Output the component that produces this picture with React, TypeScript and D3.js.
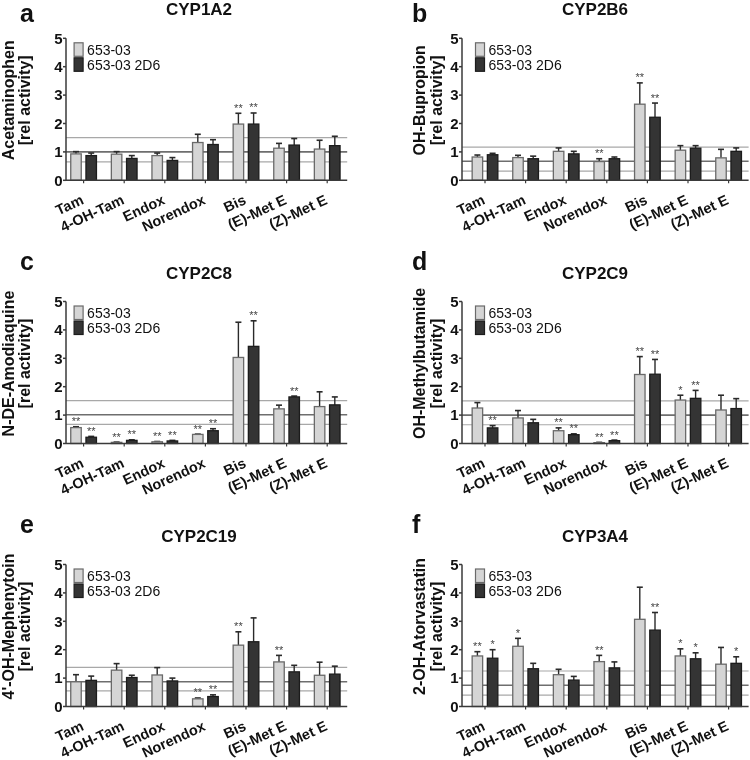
import React from "react";
import * as d3 from "d3";

// ---------- data ----------
const categories = ["Tam", "4-OH-Tam", "Endox", "Norendox", "Bis", "(E)-Met E", "(Z)-Met E"];
const seriesNames = ["653-03", "653-03 2D6"];
const yTicks = [0, 1, 2, 3, 4, 5];

const panelLetters = ["a", "b", "c", "d", "e", "f"];
const panelTitles = ["CYP1A2", "CYP2B6", "CYP2C8", "CYP2C9", "CYP2C19", "CYP3A4"];
const yLabels = ["Acetaminophen", "OH-Bupropion", "N-DE-Amodiaquine", "OH-Methylbutamide", "4'-OH-Mephenytoin", "2-OH-Atorvastatin"];
const yLabel2 = "[rel activity]";

// a: CYP1A2
const aLight = [0.93, 0.92, 0.87, 1.33, 1.98, 1.13, 1.10];
const aLightSd = [0.08, 0.09, 0.09, 0.29, 0.38, 0.17, 0.31];
const aDark = [0.87, 0.77, 0.70, 1.26, 1.98, 1.24, 1.22];
const aDarkSd = [0.09, 0.10, 0.10, 0.17, 0.39, 0.23, 0.33];
const aLightSig = ["", "", "", "", "**", "", ""];
const aDarkSig = ["", "", "", "", "**", "", ""];
const aRef = [1.5, 1.0, 0.65];

// b: CYP2B6
const bLight = [0.82, 0.80, 1.02, 0.66, 2.68, 1.06, 0.79];
const bLightSd = [0.07, 0.08, 0.12, 0.10, 0.75, 0.16, 0.30];
const bDark = [0.90, 0.76, 0.93, 0.76, 2.22, 1.13, 1.02];
const bDarkSd = [0.05, 0.09, 0.09, 0.06, 0.50, 0.09, 0.12];
const bLightSig = ["", "", "", "**", "**", "", ""];
const bDarkSig = ["", "", "", "", "**", "", ""];
const bRef = [1.17, 0.67, 0.32];

// c: CYP2C8
const cLight = [0.56, 0.04, 0.06, 0.32, 3.03, 1.22, 1.30];
const cLightSd = [0.03, 0.01, 0.01, 0.01, 1.24, 0.13, 0.52];
const cDark = [0.22, 0.11, 0.09, 0.45, 3.42, 1.64, 1.36];
const cDarkSd = [0.03, 0.02, 0.02, 0.07, 0.90, 0.03, 0.28];
const cLightSig = ["**", "**", "**", "**", "", "", ""];
const cDarkSig = ["**", "**", "**", "**", "**", "**", ""];
const cRef = [1.51, 1.01, 0.67];

// d: CYP2C9
const dLight = [1.25, 0.90, 0.45, 0.03, 2.43, 1.53, 1.18];
const dLightSd = [0.19, 0.26, 0.10, 0.01, 0.63, 0.17, 0.52];
const dDark = [0.55, 0.73, 0.31, 0.10, 2.44, 1.59, 1.23];
const dDarkSd = [0.08, 0.12, 0.03, 0.02, 0.52, 0.28, 0.35];
const dLightSig = ["", "", "**", "**", "**", "*", ""];
const dDarkSig = ["**", "", "**", "**", "**", "**", ""];
const dRef = [1.5, 1.0, 0.66];

// e: CYP2C19
const eLight = [0.87, 1.28, 1.11, 0.27, 2.16, 1.57, 1.10];
const eLightSd = [0.25, 0.23, 0.26, 0.03, 0.47, 0.23, 0.46];
const eDark = [0.92, 1.02, 0.90, 0.35, 2.28, 1.22, 1.14];
const eDarkSd = [0.15, 0.08, 0.10, 0.06, 0.84, 0.23, 0.28];
const eLightSig = ["", "", "", "**", "**", "**", ""];
const eDarkSig = ["", "", "", "**", "", "", ""];
const eRef = [1.38, 0.87, 0.55];

// f: CYP3A4
const fLight = [1.78, 2.12, 1.12, 1.58, 3.07, 1.78, 1.49];
const fLightSd = [0.15, 0.28, 0.19, 0.22, 1.13, 0.25, 0.59];
const fDark = [1.70, 1.33, 0.93, 1.36, 2.69, 1.68, 1.52];
const fDarkSd = [0.30, 0.19, 0.13, 0.21, 0.62, 0.21, 0.23];
const fLightSig = ["**", "*", "", "**", "", "*", ""];
const fDarkSig = ["*", "", "", "", "**", "*", "*"];
const fRef = [1.25, 0.75, 0.40];

const panels = [
  { light: aLight, lightSd: aLightSd, dark: aDark, darkSd: aDarkSd, lightSig: aLightSig, darkSig: aDarkSig, ref: aRef },
  { light: bLight, lightSd: bLightSd, dark: bDark, darkSd: bDarkSd, lightSig: bLightSig, darkSig: bDarkSig, ref: bRef },
  { light: cLight, lightSd: cLightSd, dark: cDark, darkSd: cDarkSd, lightSig: cLightSig, darkSig: cDarkSig, ref: cRef },
  { light: dLight, lightSd: dLightSd, dark: dDark, darkSd: dDarkSd, lightSig: dLightSig, darkSig: dDarkSig, ref: dRef },
  { light: eLight, lightSd: eLightSd, dark: eDark, darkSd: eDarkSd, lightSig: eLightSig, darkSig: eDarkSig, ref: eRef },
  { light: fLight, lightSd: fLightSd, dark: fDark, darkSd: fDarkSd, lightSig: fLightSig, darkSig: fDarkSig, ref: fRef },
];

// ---------- layout ----------
const W = 750;
const H = 760;
const colAxisX = [66, 462];
const colFirstOffset = [17.6, 23];
const rowZeroY = [180.3, 443.5, 706.5];
const plotH = 142;
const step = 40.6;
const FONT = "'Liberation Sans', Arial, Helvetica, sans-serif";

const LIGHT_FILL = "#d5d5d5";
const LIGHT_STROKE = "#6a6a6a";
const DARK_FILL = "#343434";
const DARK_STROKE = "#1c1c1c";
const AXIS = "#3a3a3a";

function Panel({ idx }: { idx: number }) {
  const p = panels[idx];
  const col = idx % 2;
  const row = Math.floor(idx / 2);
  const axisX = colAxisX[col];
  const off = colFirstOffset[col];
  const zeroY = rowZeroY[row];
  const y = d3.scaleLinear().domain([0, 5]).range([zeroY, zeroY - plotH]);
  const x = d3
    .scaleBand<string>()
    .domain(categories)
    .range([axisX + off - step / 2, axisX + off - step / 2 + categories.length * step])
    .paddingInner(0)
    .paddingOuter(0);
  const sub = d3.scaleBand<string>().domain(["light", "dark"]).range([-12.85, 12.85]).paddingInner(0.31);
  const bw = sub.bandwidth();
  const xEnd = axisX + off + (categories.length - 1) * step + 20;
  const center = (c: string) => (x(c) as number) + x.bandwidth() / 2;
  const y5 = y(5);
  const labelCY = (y(0) + y(5)) / 2 - 9;
  const yl1 = col === 0 ? 14 : 425;
  const yl2 = col === 0 ? 30 : 442;
  const letterX = col === 0 ? 20 : 412;
  const letterY = row === 0 ? 22 : y5 - 31.5;
  const legX = center(categories[0]) - 9.5;

  const series = [
    { key: "light", vals: p.light, sd: p.lightSd, sig: p.lightSig, fill: LIGHT_FILL, stroke: LIGHT_STROKE },
    { key: "dark", vals: p.dark, sd: p.darkSd, sig: p.darkSig, fill: DARK_FILL, stroke: DARK_STROKE },
  ];

  return (
    <g>
      {/* panel letter and title */}
      <text x={letterX} y={letterY} fontSize={25} fontWeight="bold" fontFamily={FONT} fill="#111">
        {panelLetters[idx]}
      </text>
      <text x={axisX + 133} y={y5 - 23} fontSize={17} fontWeight="bold" fontFamily={FONT} textAnchor="middle" fill="#111">
        {panelTitles[idx]}
      </text>

      {/* y label */}
      <text transform={`translate(${yl1},${labelCY}) rotate(-90)`} fontSize={16} fontWeight="bold" fontFamily={FONT} textAnchor="middle" fill="#111">
        {yLabels[idx]}
      </text>
      <text transform={`translate(${yl2},${labelCY}) rotate(-90)`} fontSize={16} fontWeight="bold" fontFamily={FONT} textAnchor="middle" fill="#111">
        {yLabel2}
      </text>

      {/* reference lines */}
      {p.ref.map((r, k) => (
        <line
          key={"ref" + k}
          x1={axisX}
          x2={xEnd}
          y1={y(r)}
          y2={y(r)}
          stroke={k === 1 ? "#6e6e6e" : "#a8a8a8"}
          strokeWidth={k === 1 ? 1.6 : 1.2}
        />
      ))}

      {/* bars */}
      {series.map((s) =>
        categories.map((c, i) => {
          const bx = center(c) + (sub(s.key) as number);
          const v = s.vals[i];
          const top = y(v);
          const et = y(v + s.sd[i]);
          const mx = bx + bw / 2;
          return (
            <g key={s.key + c}>
              <line x1={mx} x2={mx} y1={top} y2={et} stroke="#2a2a2a" strokeWidth={1.4} />
              <line x1={mx - 3} x2={mx + 3} y1={et} y2={et} stroke="#2a2a2a" strokeWidth={1.6} />
              <rect x={bx} y={top} width={bw} height={zeroY - top} fill={s.fill} stroke={s.stroke} strokeWidth={1.3} />
              {s.sig[i] ? (
                <text x={mx} y={et - 1.5} fontSize={11} fontFamily={FONT} textAnchor="middle" fill="#444">
                  {s.sig[i]}
                </text>
              ) : null}
            </g>
          );
        })
      )}

      {/* y axis */}
      <line x1={axisX} x2={axisX} y1={y(0)} y2={y(5)} stroke={AXIS} strokeWidth={1.5} />
      {yTicks.map((t) => (
        <g key={"yt" + t}>
          <line x1={axisX - 3} x2={axisX} y1={y(t)} y2={y(t)} stroke={AXIS} strokeWidth={1.5} />
          <text x={axisX - 3.5} y={y(t) + 5.3} fontSize={15} fontWeight="bold" fontFamily={FONT} textAnchor="end" fill="#111">
            {t}
          </text>
        </g>
      ))}

      {/* x axis */}
      <line x1={axisX} x2={xEnd} y1={zeroY} y2={zeroY} stroke={AXIS} strokeWidth={1.5} />
      {categories.map((c) => (
        <g key={"xt" + c}>
          <line x1={center(c)} x2={center(c)} y1={zeroY} y2={zeroY + 3} stroke={AXIS} strokeWidth={1.2} />
          <text
            transform={`translate(${center(c) + 1},${zeroY + 23}) rotate(-25)`}
            fontSize={14.5}
            fontWeight="bold"
            fontFamily={FONT}
            textAnchor="end"
            fill="#111"
          >
            {c}
          </text>
        </g>
      ))}

      {/* legend */}
      {seriesNames.map((n, k) => (
        <g key={"leg" + k}>
          <rect
            x={legX}
            y={y5 + 4.5 + k * 15}
            width={9}
            height={13.5}
            fill={k === 0 ? LIGHT_FILL : DARK_FILL}
            stroke={k === 0 ? LIGHT_STROKE : DARK_STROKE}
            strokeWidth={1.2}
          />
          <text x={legX + 13} y={y5 + 16.7 + k * 15} fontSize={14} fontFamily={FONT} fill="#111">
            {n}
          </text>
        </g>
      ))}
    </g>
  );
}

export default function App() {
  return (
    <svg
      width={W}
      height={H}
      viewBox={`0 0 ${W} ${H}`}
      style={{ position: "absolute", left: 0, top: 0, background: "#fff" }}
    >
      <rect x={0} y={0} width={W} height={H} fill="#fff" />
      <g opacity={0.999}>
        {panels.map((_, i) => (
          <Panel key={i} idx={i} />
        ))}
      </g>
    </svg>
  );
}
